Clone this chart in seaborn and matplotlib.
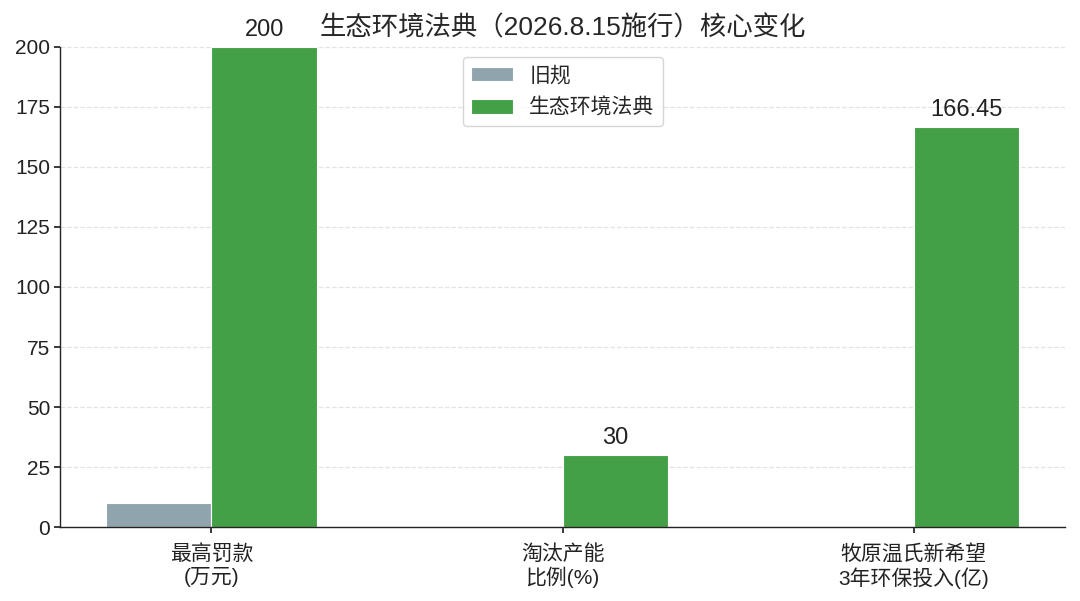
import matplotlib
matplotlib.use("Agg")
import matplotlib.pyplot as plt
import seaborn as sns
import pandas as pd
import numpy as np

categories = ["最高罚款\n(万元)", "淘汰产能\n比例(%)", "牧原温氏新希望\n3年环保投入(亿)"]
old_values = [10, 0, 0]
new_values = [200, 30, 166.45]
series_names = ["旧规", "生态环境法典"]
colors = ["#90A4AE", "#43A047"]
new_labels = ["200", "30", "166.45"]

sns.set_theme(style="white")
plt.rcParams['font.family'] = ['Liberation Sans', 'Noto Sans CJK SC', 'DejaVu Sans']
plt.rcParams['axes.unicode_minus'] = False

df = pd.DataFrame({
    "category": categories * 2,
    "series": [series_names[0]] * 3 + [series_names[1]] * 3,
    "value": old_values + new_values,
})

fig, ax = plt.subplots(figsize=(10.8, 6.01), dpi=100)
sns.barplot(data=df, x="category", y="value", hue="series", palette=colors,
            width=0.6, ax=ax, edgecolor="white", linewidth=0.8, saturation=1)

# labels only above new bars
cont = ax.containers[1]
for rect, lab in zip(cont, new_labels):
    ax.text(rect.get_x() + rect.get_width() / 2, rect.get_height() + 2.5, lab,
            ha="center", va="bottom", fontsize=17, color="#222222")

ax.set_ylim(0, 200)
ax.set_xlim(-0.43, 2.43)
ax.set_yticks([0, 25, 50, 75, 100, 125, 150, 175, 200])
ax.yaxis.grid(True, linestyle="--", color="#dddddd", linewidth=0.9, alpha=0.8)
ax.set_axisbelow(True)
ax.set_xlabel("")
ax.set_ylabel("")
ax.set_title("生态环境法典（2026.8.15施行）核心变化", fontsize=19, pad=8)
sns.despine(ax=ax)
for s in ["left", "bottom"]:
    ax.spines[s].set_color("#222222")
    ax.spines[s].set_linewidth(1.0)
ax.tick_params(axis="x", labelsize=15, colors="#222222", length=4, bottom=True, pad=8)
ax.tick_params(axis="y", labelsize=15, colors="#222222", length=4, left=True)
ax.legend(loc="upper center", fontsize=15, title=None, frameon=True, labelspacing=0.6)

fig.subplots_adjust(left=0.056, right=0.986, top=0.922, bottom=0.123)
fig.savefig("out.png", dpi=100)
